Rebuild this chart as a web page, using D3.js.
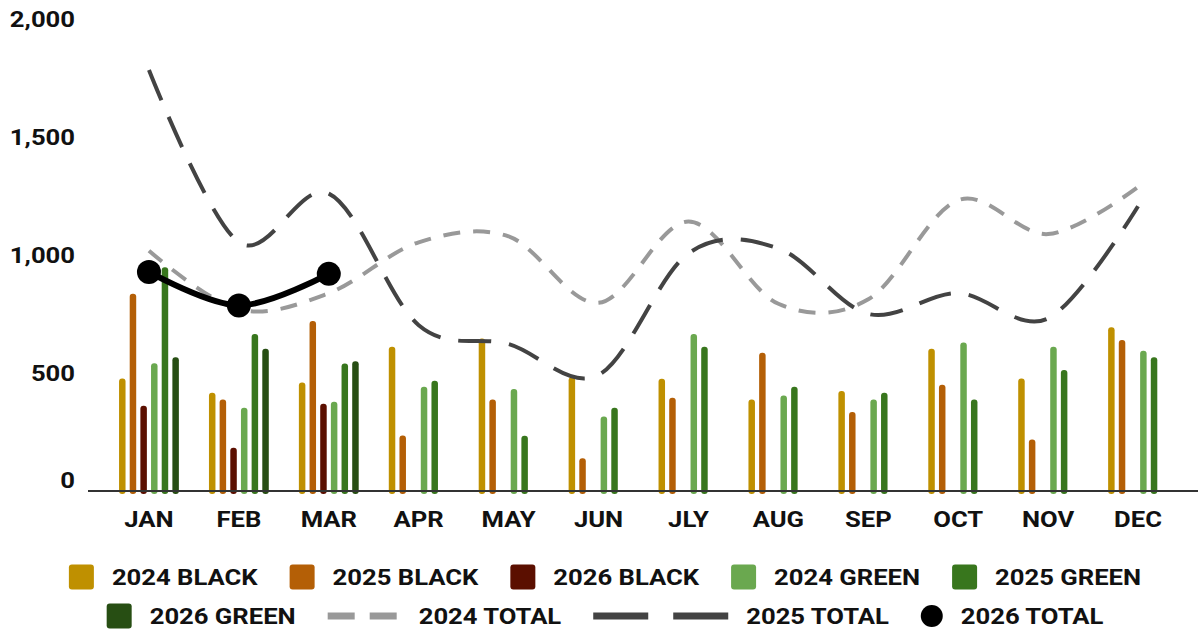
<!DOCTYPE html>
<html>
<head>
<meta charset="utf-8">
<script src="https://cdn.jsdelivr.net/npm/d3@7"></script>
<style>
  html, body { margin: 0; padding: 0; background: #fff; }
  svg { display: block; }
  text { font-family: Roboto, "Noto Sans", sans-serif; font-weight: 700; fill: #111; }
</style>
</head>
<body>
<svg id="chart" width="1198" height="632"></svg>
<script>
// Monthly volumes, black and green, per year
const months = ["JAN", "FEB", "MAR", "APR", "MAY", "JUN", "JLY", "AUG", "SEP", "OCT", "NOV", "DEC"];

const black2024 = [478, 417, 461, 613, 648, 483, 477, 389, 425, 604, 478, 695];
const black2025 = [838, 389, 722, 236, 389, 139, 396, 587, 335, 451, 219, 641];
const black2026 = [362, 184, 371];
const green2024 = [542, 354, 379, 443, 433, 316, 667, 406, 389, 631, 613, 596];
const green2025 = [950, 667, 541, 468, 235, 354, 613, 443, 417, 389, 514, 568];
const green2026 = [568, 604, 551];

const total2024 = [1020, 771, 840, 1056, 1081, 799, 1144, 795, 814, 1235, 1091, 1291];
const total2025 = [1788, 1056, 1263, 704, 624, 493, 1009, 1030, 752, 840, 733, 1209];
const total2026 = [930, 788, 922];

const yTicks = [0, 500, 1000, 1500, 2000];

const barSeries = [
  { name: "2024 BLACK", values: black2024, color: "#bf9000" },
  { name: "2025 BLACK", values: black2025, color: "#b45f06" },
  { name: "2026 BLACK", values: black2026, color: "#5b0f00" },
  { name: "2024 GREEN", values: green2024, color: "#6aa84f" },
  { name: "2025 GREEN", values: green2025, color: "#38761d" },
  { name: "2026 GREEN", values: green2026, color: "#274e13" }
];
const lineSeries = [
  { name: "2024 TOTAL", values: total2024, color: "#999999", width: 4, dash: "17 13", legendDash: "27 15" },
  { name: "2025 TOTAL", values: total2025, color: "#434343", width: 4, dash: "33 18", legendDash: "55 25" },
  { name: "2026 TOTAL", values: total2026, color: "#000000", width: 6, dash: null, points: true }
];

const svg = d3.select("#chart");
const FONT = 22.5;     // label size
const SX = 1.14;       // horizontal stretch of labels

function label(g, x, y, txt, anchor) {
  const t = g.append("g").attr("transform", `translate(${x},${y}) scale(${SX},1)`)
    .append("text")
    .attr("font-size", FONT)
    .attr("dominant-baseline", "central")
    .attr("text-anchor", anchor || "start")
    .text(txt);
  return t;
}

const x = d3.scaleBand().domain(months).range([104, 1183]).padding(0);
const xInner = d3.scaleBand().domain(barSeries.map(s => s.name)).range([-32, 32]).padding(0);
const y = d3.scaleLinear().domain([0, 2000]).range([491, 20]);
const cx = m => x(m) + x.bandwidth() / 2;
const barW = 6.5;

// bars
const bars = svg.append("g");
barSeries.forEach(s => {
  bars.selectAll(null)
    .data(s.values.map((v, i) => ({ m: months[i], v })))
    .join("rect")
    .attr("x", d => cx(d.m) + xInner(s.name) + xInner.bandwidth() / 2 - barW / 2)
    .attr("y", d => y(d.v))
    .attr("width", barW)
    .attr("height", d => y(0) - y(d.v) + 3)
    .attr("rx", 3)
    .attr("fill", s.color);
});

// baseline
svg.append("line")
  .attr("x1", 88).attr("x2", 1198)
  .attr("y1", y(0)).attr("y2", y(0))
  .attr("stroke", "#333").attr("stroke-width", 2);

// lines
const lineGen = d3.line()
  .x((d, i) => cx(months[i]))
  .y(d => y(d))
  .curve(d3.curveCardinal.tension(0));

lineSeries.forEach(s => {
  svg.append("path")
    .attr("d", lineGen(s.values))
    .attr("fill", "none")
    .attr("stroke", s.color)
    .attr("stroke-width", s.width)
    .attr("stroke-dasharray", s.dash)
    .attr("stroke-linejoin", "round");
  if (s.points) {
    svg.append("g").selectAll("circle")
      .data(s.values)
      .join("circle")
      .attr("cx", (d, i) => cx(months[i]))
      .attr("cy", d => y(d))
      .attr("r", 12)
      .attr("fill", s.color);
  }
});

// y axis labels
const yAxis = svg.append("g");
yTicks.forEach(t => {
  label(yAxis, 75, y(t) - (t === 0 ? 10 : 0), d3.format(",")(t), "end");
});

// x axis labels
const xAxis = svg.append("g");
months.forEach(m => label(xAxis, cx(m), 520, m, "middle"));

// legend
const legend = svg.append("g");
const rows = [
  barSeries.slice(0, 5).map(s => ({ ...s, kind: "bar" })),
  [{ ...barSeries[5], kind: "bar" }].concat(lineSeries.map(s => ({ ...s, kind: s.points ? "point" : "line" })))
];
const rowY = [577, 616];
const legendCenter = 605;
const GAP = 32;
rows.forEach((items, r) => {
  const row = legend.append("g");
  let cur = 0;
  items.forEach(it => {
    const symW = it.kind === "bar" ? 25 : it.kind === "line" ? (it.name === "2024 TOTAL" ? 73 : 135) : 22;
    const gItem = row.append("g").attr("transform", `translate(${cur},0)`);
    if (it.kind === "bar") {
      gItem.append("rect").attr("x", 0).attr("y", rowY[r] - 12.5)
        .attr("width", 25).attr("height", 25).attr("rx", 3).attr("fill", it.color);
    } else if (it.kind === "line") {
      gItem.append("line").attr("x1", 0).attr("x2", symW)
        .attr("y1", rowY[r]).attr("y2", rowY[r])
        .attr("stroke", it.color).attr("stroke-width", 7)
        .attr("stroke-dasharray", it.legendDash);
    } else {
      gItem.append("circle").attr("cx", 11).attr("cy", rowY[r]).attr("r", 11).attr("fill", it.color);
    }
    const tx = symW + 18;
    const t = label(gItem, tx, rowY[r] + 1, it.name, "start");
    const tw = t.node().getComputedTextLength() * SX;
    cur += tx + tw + GAP;
  });
  const total = cur - GAP;
  row.attr("transform", `translate(${legendCenter - total / 2},0)`);
});
</script>
</body>
</html>
